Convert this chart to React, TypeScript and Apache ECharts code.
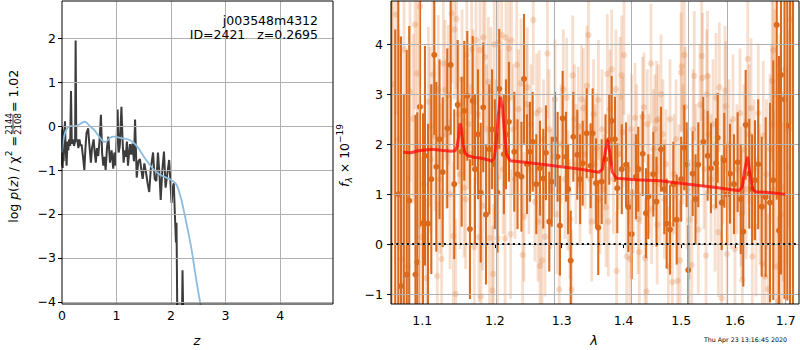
import React, { useEffect, useRef } from "react";
import * as echarts from "echarts";

// ---------------- Left panel: redshift probability ----------------
const pzZ = [0.0, 0.005, 0.012, 0.02, 0.03, 0.04, 0.055, 0.065, 0.085, 0.1, 0.115, 0.13, 0.15, 0.165, 0.18, 0.2, 0.22, 0.24, 0.25, 0.262, 0.28, 0.3, 0.32, 0.34, 0.36, 0.385, 0.41, 0.43, 0.45, 0.48, 0.5, 0.53, 0.55, 0.58, 0.6, 0.62, 0.64, 0.665, 0.69, 0.714, 0.735, 0.757, 0.78, 0.8, 0.825, 0.85, 0.88, 0.91, 0.94, 0.96, 0.985, 1.02, 1.04, 1.06, 1.09, 1.11, 1.13, 1.15, 1.17, 1.19, 1.21, 1.245, 1.27, 1.29, 1.32, 1.34, 1.37, 1.4, 1.43, 1.455, 1.48, 1.51, 1.54, 1.57, 1.6, 1.63, 1.67, 1.7, 1.73, 1.76, 1.79, 1.81, 1.84, 1.87, 1.9, 1.93, 1.965, 1.99, 2.01, 2.03, 2.05, 2.07, 2.09, 2.1, 2.115, 2.2, 2.21, 2.225];
const pzLog = [-0.9, -0.08, -0.95, -0.55, -0.8, -0.2, 0.11, -0.5, -0.9, -0.35, -0.55, -0.3, -0.45, 0.8, -0.4, -0.3, -0.45, -0.35, 1.95, -0.35, -0.3, -0.5, -0.3, -0.45, -0.42, -0.7, -1.0, -0.5, -0.15, -0.05, -0.4, -0.83, -0.5, -0.3, -0.6, -0.83, -0.5, -0.68, -0.3, 0.26, -0.6, -0.9, -0.7, -1.0, -0.5, -0.24, -0.83, -0.55, -0.97, -0.6, -0.9, 0.38, -0.6, -0.45, 0.44, -0.3, -0.83, -0.55, -0.7, -0.35, -0.9, -0.41, -0.65, -0.4, -0.8, 0.15, -1.17, -0.8, -0.75, -1.0, -1.2, -0.85, -1.05, -1.3, -1.5, -0.95, -0.6, -1.2, -1.25, -0.6, -1.15, -1.68, -1.0, -0.58, -1.4, -1.1, -0.77, -1.3, -1.75, -1.4, -1.3, -2.0, -2.65, -2.2, -4.4, -4.4, -3.28, -4.4];
const priorZ = [0.0, 0.055, 0.15, 0.24, 0.33, 0.42, 0.51, 0.6, 0.73, 0.79, 0.88, 0.94, 1.09, 1.25, 1.37, 1.52, 1.67, 1.79, 2.01, 2.1, 2.19, 2.28, 2.375, 2.47, 2.56];
const priorLog = [-0.6, -0.15, 0.0, 0.0, 0.05, 0.1, 0.0, -0.1, -0.32, -0.36, -0.27, -0.24, -0.27, -0.32, -0.45, -0.73, -0.97, -1.1, -1.23, -1.33, -1.68, -2.2, -2.8, -3.56, -4.2];
const zTicks = [0, 1, 2, 3, 4];
const pzTicks = [-4, -3, -2, -1, 0, 1, 2];

// ---------------- Right panel: 1D spectrum ----------------
const darkWave = [1.06, 1.065, 1.0689, 1.0723, 1.076, 1.0797, 1.083, 1.0911, 1.0935, 1.097, 1.101, 1.1036, 1.1076, 1.112, 1.116, 1.1187, 1.123, 1.1273, 1.1335, 1.1381, 1.143, 1.1477, 1.1532, 1.1568, 1.161, 1.1647, 1.1685, 1.1717, 1.176, 1.1798, 1.1834, 1.1873, 1.192, 1.196, 1.2, 1.2037, 1.2063, 1.213, 1.216, 1.2204, 1.2282, 1.233, 1.2388, 1.2426, 1.247, 1.2515, 1.2556, 1.261, 1.2666, 1.2716, 1.2757, 1.2808, 1.2845, 1.2896, 1.2937, 1.2973, 1.3015, 1.3067, 1.31, 1.3141, 1.3182, 1.3245, 1.329, 1.3331, 1.3395, 1.3459, 1.3491, 1.3545, 1.3582, 1.3638, 1.37, 1.3762, 1.3802, 1.3856, 1.3895, 1.397, 1.4041, 1.408, 1.4137, 1.421, 1.4249, 1.4325, 1.4381, 1.4421, 1.4508, 1.4563, 1.4642, 1.47, 1.4742, 1.4801, 1.486, 1.492, 1.5, 1.5056, 1.5099, 1.5128, 1.5208, 1.526, 1.5311, 1.5403, 1.5484, 1.5545, 1.5639, 1.5671, 1.5746, 1.5795, 1.585, 1.5903, 1.598, 1.605, 1.611, 1.6159, 1.6205, 1.6275, 1.633, 1.6387, 1.645, 1.6519, 1.6598, 1.6684, 1.675, 1.6819, 1.6865, 1.6906, 1.6977, 1.7034, 1.709, 1.7151];
const darkFlux = [5.6, -1.7, 1.0, -0.84, -1.5, -0.61, 0.87, -0.61, -0.36, 2.75, 0.42, 1.77, 0.41, 1.3, 3.79, 1.55, 2.1, 1.44, 2.32, 3.59, 1.2, 2.79, 1.85, 2.67, 2.97, 0.3, 2.87, 1.5, 2.2, 1.03, 2.74, 0.59, 1.9, 2.3, 1.6, 1.03, 3.11, 1.8, 2.2, 2.45, 1.85, 1.4, 1.35, 3.31, 1.6, 1.85, 2.05, 1.2, 1.52, 1.31, 1.83, 0.45, 1.25, 2.1, 1.75, 0.37, 2.52, 1.75, 1.1, -0.33, 2.15, 1.79, 1.3, 1.62, 2.22, 1.57, 2.22, 1.22, 0.33, 1.25, 1.7, 2.09, 2.47, 2.1, 1.12, 1.5, 1.59, 0.74, 0.2, 1.35, 1.5, 1.81, 0.62, 0.95, 1.4, 0.85, 1.9, 1.1, 0.41, 0.29, 1.2, 0.49, 1.3, 1.93, 1.59, -0.52, 1.41, 0.9, 1.59, 2.05, 1.77, 1.52, 1.62, 2.13, 0.83, 1.68, 1.0, 1.41, 1.2, 1.64, 0.9, 0.25, 2.39, 1.41, 1.1, 1.28, 1.6, 0.75, 0.94, 0.83, 1.28, 4.39, 0.27, 3.39, 2.9, 2.37, 5.5, -1.6];
const darkErr = [7, 6, 5, 5, 4.5, 4.5, 3.5, 3.2, 3.0, 2.4, 2.2, 2.2, 2.0, 1.9, 1.6, 1.7, 1.6, 1.5, 1.6, 1.4, 1.5, 1.3, 1.5, 1.4, 1.3, 1.4, 1.3, 1.5, 1.3, 1.4, 1.3, 1.4, 1.3, 1.2, 1.3, 1.2, 1.2, 1.2, 1.1, 1.2, 1.2, 1.1, 1.1, 1.3, 1.0, 1.0, 1.0, 1.0, 0.95, 1.0, 0.95, 1.0, 0.9, 0.95, 0.9, 1.0, 0.95, 0.9, 0.9, 1.0, 0.9, 0.9, 0.9, 0.85, 0.9, 0.85, 0.9, 0.9, 0.95, 0.85, 0.9, 0.9, 0.9, 0.85, 0.9, 0.9, 0.85, 0.9, 0.9, 0.85, 0.85, 0.85, 0.9, 0.85, 0.85, 0.9, 0.85, 0.9, 0.9, 0.9, 0.85, 0.9, 0.85, 0.85, 0.85, 0.9, 0.85, 0.9, 0.85, 0.9, 0.9, 0.9, 0.9, 0.9, 0.95, 0.95, 1.0, 1.0, 1.0, 1.0, 1.1, 1.1, 1.1, 1.1, 1.1, 1.2, 1.3, 1.4, 1.6, 2.0, 2.4, 3.5, 3.5, 4.0, 4.0, 3.5, 7, 7];

const lightWave = [1.0621, 1.0659, 1.0698, 1.0737, 1.0763, 1.0811, 1.084, 1.0883, 1.0905, 1.0935, 1.0948, 1.097, 1.0983, 1.1023, 1.1056, 1.1082, 1.1102, 1.1115, 1.1142, 1.1169, 1.12, 1.1213, 1.1236, 1.1259, 1.1281, 1.1304, 1.1324, 1.1349, 1.1372, 1.1395, 1.1417, 1.1434, 1.145, 1.1461, 1.1489, 1.1509, 1.1537, 1.1565, 1.1586, 1.1603, 1.1628, 1.1654, 1.1671, 1.1689, 1.1708, 1.1732, 1.1753, 1.1774, 1.1788, 1.1802, 1.1826, 1.1835, 1.1859, 1.188, 1.1906, 1.1923, 1.1944, 1.1963, 1.1977, 1.1991, 1.2016, 1.204, 1.2049, 1.2074, 1.2099, 1.2118, 1.2147, 1.2161, 1.219, 1.2205, 1.2229, 1.2241, 1.2263, 1.2293, 1.2318, 1.2344, 1.2381, 1.2406, 1.2426, 1.2466, 1.2475, 1.25, 1.253, 1.2565, 1.259, 1.2616, 1.2636, 1.2655, 1.2666, 1.2697, 1.272, 1.2743, 1.2779, 1.2804, 1.2834, 1.287, 1.2896, 1.2927, 1.2962, 1.2989, 1.3025, 1.3051, 1.3078, 1.3098, 1.3129, 1.3156, 1.3172, 1.32, 1.3224, 1.3261, 1.3288, 1.3313, 1.3342, 1.337, 1.3398, 1.3424, 1.3448, 1.3476, 1.3505, 1.353, 1.3558, 1.3584, 1.361, 1.3643, 1.3676, 1.3709, 1.373, 1.3746, 1.3774, 1.3802, 1.3831, 1.3873, 1.3884, 1.3915, 1.394, 1.3969, 1.3991, 1.4008, 1.4054, 1.4085, 1.4108, 1.4134, 1.4164, 1.4193, 1.4222, 1.4244, 1.4266, 1.4295, 1.4324, 1.4346, 1.4364, 1.4393, 1.4403, 1.4433, 1.4467, 1.4479, 1.451, 1.4536, 1.4565, 1.4575, 1.4593, 1.4624, 1.4642, 1.4677, 1.4704, 1.473, 1.4771, 1.4801, 1.4842, 1.4872, 1.4908, 1.4938, 1.4961, 1.4979, 1.4997, 1.501, 1.5034, 1.5057, 1.507, 1.5106, 1.5148, 1.5191, 1.5215, 1.5238, 1.5269, 1.5311, 1.5342, 1.5373, 1.5388, 1.5416, 1.5453, 1.5466, 1.5481, 1.5509, 1.5546, 1.5583, 1.5621, 1.564, 1.5683, 1.5702, 1.5746, 1.5771, 1.5809, 1.5822, 1.5847, 1.5884, 1.5922, 1.5961, 1.5999, 1.6037, 1.6095, 1.6114, 1.6128, 1.614, 1.6173, 1.6212, 1.6245, 1.627, 1.6309, 1.6334, 1.6367, 1.6407, 1.6452, 1.6485, 1.6531, 1.6551, 1.6584, 1.6614, 1.665, 1.6684, 1.6718, 1.673, 1.675, 1.676, 1.6784, 1.6814, 1.6851, 1.6885, 1.6915, 1.6952, 1.6987, 1.7022, 1.7068, 1.7108];
const lightFlux = [3.2, 4.6, 2.1, -0.3, 3.9, -0.45, 3.05, 2.51, 4.4, 3.42, 0.35, 4.76, 0.14, 1.2, -0.68, 2.85, 2.35, 1.7, 3.4, 2.16, -0.64, 3.09, 1.3, -0.3, 3.62, 3.09, 2.2, 2.99, 1.0, 4.62, 0.16, 4.3, -1.0, 4.51, 2.6, 1.4, 3.3, 1.13, 0.9, 3.79, 2.4, 1.8, 3.9, 2.9, -0.06, 4.09, 2.6, 0.14, 3.89, -1.05, 0.77, 4.14, 3.75, 2.3, 3.25, 0.12, 3.05, -0.93, -0.6, 4.0, 2.0, 0.12, 4.03, 2.6, 4.19, 1.5, 0.11, 4.14, 2.9, 3.92, 0.2, 4.08, 2.3, 1.3, 3.59, 2.7, 3.22, -0.22, 0.55, 2.8, 3.14, 1.5, 2.4, 4.49, 0.85, 2.62, 0.45, 2.68, -0.44, -0.33, 2.1, 0.15, 3.82, 2.3, 1.1, 1.75, 2.9, 0.6, -0.91, 2.0, 3.1, 1.3, 2.93, 1.07, 0.5, -0.91, 3.38, 2.5, 1.6, 2.35, 1.22, 2.9, 2.72, 1.8, 3.17, 4.19, 1.3, 0.45, 2.6, 1.6, 1.92, 2.89, 0.9, 2.3, 1.1, 0.74, 3.41, 0.45, 2.7, 3.5, 1.3, 3.1, -0.54, 1.8, 2.95, 3.38, 2.24, 3.79, -0.25, 1.5, -0.3, 2.3, 1.02, 2.53, 2.0, 0.5, -0.16, 1.5, 2.55, 2.74, -0.28, -0.95, 2.4, 1.4, 3.62, 0.7, 1.9, 2.3, 2.47, 0.39, 2.5, 1.2, 3.0, 2.2, 0.9, 1.6, -0.45, 2.5, -0.76, 1.4, 2.1, -0.74, 1.2, -0.33, 3.44, 3.56, 2.0, 3.79, 2.75, 1.1, 0.49, -0.42, 2.3, 3.37, 1.6, 0.29, 2.79, 3.77, 3.33, 1.5, -0.23, 3.0, 3.37, 2.2, 1.3, 2.4, 0.75, 2.93, 0.24, 3.14, -1.08, 1.7, 3.07, 2.76, -0.2, 2.0, 1.2, 2.5, -0.1, 1.5, 2.62, 0.95, 0.6, -0.72, 1.9, 1.1, 3.71, 2.2, 2.72, -0.25, 1.5, 0.35, 2.62, 1.0, -0.4, 2.17, -0.65, 1.4, -0.9, 1.9, 2.41, 3.27, 3.89, 1.09, 3.0, -0.45, -1.14, 2.4, 0.6, 1.15, 3.5, 1.55, 2.3, 4.5];
const lightErr = [2.2, 2.0, 2.2, 2.0, 1.8, 1.8, 1.8, 1.7, 1.7, 1.6, 1.7, 1.6, 1.6, 1.6, 1.6, 1.5, 1.6, 1.5, 1.5, 1.5, 1.5, 1.5, 1.5, 1.4, 1.5, 1.4, 1.5, 1.4, 1.5, 1.4, 1.5, 1.4, 1.5, 1.4, 1.4, 1.5, 1.4, 1.4, 1.4, 1.4, 1.3, 1.4, 1.3, 1.4, 1.4, 1.3, 1.4, 1.3, 1.4, 1.4, 1.3, 1.3, 1.4, 1.3, 1.3, 1.4, 1.3, 1.3, 1.4, 1.3, 1.3, 1.3, 1.3, 1.3, 1.3, 1.3, 1.3, 1.3, 1.2, 1.3, 1.3, 1.2, 1.3, 1.2, 1.3, 1.2, 1.3, 1.2, 1.3, 1.2, 1.2, 1.3, 1.2, 1.3, 1.2, 1.2, 1.2, 1.2, 1.2, 1.3, 1.2, 1.2, 1.3, 1.2, 1.2, 1.2, 1.2, 1.2, 1.2, 1.2, 1.2, 1.2, 1.2, 1.2, 1.2, 1.2, 1.2, 1.1, 1.2, 1.2, 1.2, 1.1, 1.2, 1.1, 1.2, 1.2, 1.1, 1.2, 1.1, 1.2, 1.1, 1.2, 1.1, 1.2, 1.1, 1.2, 1.2, 1.1, 1.2, 1.2, 1.1, 1.2, 1.2, 1.1, 1.2, 1.2, 1.1, 1.2, 1.2, 1.1, 1.2, 1.1, 1.2, 1.1, 1.2, 1.1, 1.2, 1.1, 1.2, 1.1, 1.2, 1.2, 1.1, 1.2, 1.2, 1.1, 1.2, 1.1, 1.2, 1.2, 1.1, 1.2, 1.2, 1.1, 1.2, 1.1, 1.2, 1.2, 1.2, 1.2, 1.2, 1.2, 1.2, 1.2, 1.2, 1.3, 1.2, 1.3, 1.2, 1.2, 1.2, 1.3, 1.2, 1.3, 1.2, 1.3, 1.2, 1.3, 1.3, 1.2, 1.3, 1.3, 1.3, 1.2, 1.3, 1.3, 1.3, 1.3, 1.3, 1.3, 1.3, 1.3, 1.3, 1.3, 1.3, 1.3, 1.3, 1.3, 1.3, 1.3, 1.3, 1.4, 1.3, 1.4, 1.3, 1.4, 1.4, 1.4, 1.4, 1.4, 1.4, 1.4, 1.4, 1.4, 1.5, 1.5, 1.5, 1.5, 1.5, 1.5, 1.6, 1.6, 1.6, 1.6, 1.7, 1.7, 1.7, 1.8, 1.8, 1.9, 1.9, 2.0, 2.0, 2.1, 2.2, 2.3, 2.5];

const modelWave = [1.0753, 1.085, 1.095, 1.1125, 1.125, 1.139, 1.144, 1.147, 1.149, 1.151, 1.153, 1.155, 1.158, 1.162, 1.17, 1.181, 1.19, 1.196, 1.199, 1.202, 1.205, 1.208, 1.211, 1.214, 1.217, 1.222, 1.244, 1.287, 1.33, 1.359, 1.365, 1.369, 1.373, 1.377, 1.381, 1.388, 1.42, 1.462, 1.513, 1.56, 1.608, 1.614, 1.618, 1.624, 1.629, 1.634, 1.64, 1.67, 1.699];
const modelFlux = [1.84, 1.83, 1.87, 1.9, 1.88, 1.86, 1.87, 1.95, 2.15, 2.42, 2.3, 2.0, 1.82, 1.77, 1.74, 1.72, 1.69, 1.66, 1.72, 2.05, 2.6, 2.95, 2.75, 2.2, 1.8, 1.67, 1.64, 1.57, 1.5, 1.44, 1.5, 1.8, 2.09, 1.85, 1.45, 1.32, 1.29, 1.27, 1.2, 1.14, 1.07, 1.15, 1.45, 1.75, 1.4, 1.1, 1.05, 1.03, 1.0];

const waveTicks = [1.1, 1.2, 1.3, 1.4, 1.5, 1.6, 1.7];
const fluxTicks = [-1, 0, 1, 2, 3, 4];

const F_MIN = -1.2;
const F_MAX = 4.87;
const W_MIN = 1.0596;
const W_MAX = 1.7274;

const FONT = "DejaVu Sans";
const ORANGE = "#dc6a1c";
const GRIDC = "#b0b0b0";

const minus = (v: number) => (v < 0 ? "\u2212" + Math.abs(v) : String(v));

function errRender(color: string, opacity: number, lw: number, r: number) {
  return (params: any, api: any) => {
    const x = api.value(0);
    const y = api.value(1);
    const e = api.value(2);
    const lo = Math.max(y - e, F_MIN);
    const hi = Math.min(y + e, F_MAX);
    const children: any[] = [];
    if (hi > lo) {
      const p0 = api.coord([x, lo]);
      const p1 = api.coord([x, hi]);
      children.push({
        type: "line",
        shape: { x1: p0[0], y1: p0[1], x2: p1[0], y2: p1[1] },
        style: { stroke: color, lineWidth: lw, opacity },
      });
    }
    if (y > F_MIN && y < F_MAX) {
      const c = api.coord([x, y]);
      children.push({
        type: "circle",
        shape: { cx: c[0], cy: c[1], r },
        style: { fill: color, opacity },
      });
    }
    return { type: "group", children };
  };
}

export default function App() {
  const ref = useRef<HTMLDivElement>(null);

  useEffect(() => {
    document.body.style.margin = "0";
    if (!ref.current) return;
    const chart = echarts.init(ref.current, undefined, { renderer: "svg" });

    const lg = (w: number) => Math.log10(w);
    const tickFont = { fontFamily: FONT, fontSize: 12.5, color: "#000" };
    const tick = { show: true, length: 4, lineStyle: { color: "#000" } };
    const gridLine = {
      silent: true,
      symbol: "none",
      label: { show: false },
      lineStyle: { color: GRIDC, type: "solid", width: 1, opacity: 1 },
    };

    const option: any = {
      animation: false,
      backgroundColor: "#fff",
      grid: [
        { left: 62, top: 1, width: 271, height: 303, show: false },
        { left: 391, top: 1, width: 408, height: 303, show: false },
      ],
      xAxis: [
        {
          gridIndex: 0,
          type: "value",
          min: 0,
          max: 4.97,
          axisLine: { show: false },
          axisTick: { ...tick, customValues: zTicks },
          axisLabel: { ...tickFont, margin: 5, customValues: zTicks },
          splitLine: { show: false },
        },
        {
          gridIndex: 1,
          type: "value",
          min: lg(W_MIN),
          max: lg(W_MAX),
          axisLine: { show: false },
          axisTick: { ...tick, customValues: waveTicks.map(lg) },
          axisLabel: {
            ...tickFont,
            margin: 10,
            customValues: waveTicks.map(lg),
            formatter: (v: number) => Math.pow(10, v).toFixed(1),
          },
          splitLine: { show: false },
        },
      ],
      yAxis: [
        {
          gridIndex: 0,
          type: "value",
          min: -4.05,
          max: 2.85,
          axisLine: { show: false },
          axisTick: { ...tick, customValues: pzTicks },
          axisLabel: { ...tickFont, margin: 6, customValues: pzTicks, formatter: minus },
          splitLine: { show: false },
        },
        {
          gridIndex: 1,
          type: "value",
          min: F_MIN,
          max: F_MAX,
          axisLine: { show: false },
          axisTick: { ...tick, customValues: fluxTicks },
          axisLabel: { ...tickFont, margin: 8, customValues: fluxTicks, formatter: minus },
          splitLine: { show: false },
        },
      ],
      series: [
        {
          type: "line",
          xAxisIndex: 0,
          yAxisIndex: 0,
          data: [],
          z: 1,
          silent: true,
          markLine: {
            ...gridLine,
            data: [
              ...zTicks.filter((v) => v > 0).map((v) => ({ xAxis: v })),
              ...pzTicks.map((v) => ({ yAxis: v })),
            ],
          },
        },
        {
          type: "line",
          xAxisIndex: 1,
          yAxisIndex: 1,
          data: [],
          z: 1,
          silent: true,
          markLine: {
            ...gridLine,
            data: [
              ...waveTicks.map((v) => ({ xAxis: lg(v) })),
              ...fluxTicks.map((v) => ({ yAxis: v })),
            ],
          },
        },
        {
          type: "line",
          xAxisIndex: 0,
          yAxisIndex: 0,
          data: pzZ.map((z, i) => [z, pzLog[i]]),
          showSymbol: false,
          clip: true,
          lineStyle: { color: "#3c3c3c", width: 2 },
          z: 3,
        },
        {
          type: "line",
          xAxisIndex: 0,
          yAxisIndex: 0,
          data: priorZ.map((z, i) => [z, priorLog[i]]),
          showSymbol: false,
          smooth: 0.3,
          clip: true,
          lineStyle: { color: "#8cbce0", width: 1.8 },
          z: 4,
        },
        {
          type: "custom",
          xAxisIndex: 1,
          yAxisIndex: 1,
          clip: true,
          data: lightWave.map((w, i) => [lg(w), lightFlux[i], lightErr[i]]),
          renderItem: errRender(ORANGE, 0.22, 2.8, 3.2),
          z: 2,
        },
        {
          type: "custom",
          xAxisIndex: 1,
          yAxisIndex: 1,
          clip: true,
          data: darkWave.map((w, i) => [lg(w), darkFlux[i], darkErr[i]]),
          renderItem: errRender(ORANGE, 1, 2.1, 3),
          z: 3,
        },
        {
          type: "line",
          xAxisIndex: 1,
          yAxisIndex: 1,
          data: modelWave.map((w, i) => [lg(w), modelFlux[i]]),
          showSymbol: false,
          clip: true,
          lineStyle: { color: "#ff0000", width: 3, opacity: 0.7 },
          z: 5,
          markLine: {
            silent: true,
            symbol: "none",
            label: { show: false },
            lineStyle: { color: "#000", type: [2, 3.3], width: 2, opacity: 1 },
            data: [{ yAxis: 0 }],
          },
        },
      ],
      graphic: [
        { type: "rect", shape: { x: 62, y: 1, width: 271, height: 303 }, style: { fill: "none", stroke: "#000", lineWidth: 1 }, z: 100 },
        { type: "rect", shape: { x: 391, y: 1, width: 408, height: 303 }, style: { fill: "none", stroke: "#000", lineWidth: 1 }, z: 100 },
        {
          type: "text", x: 318, y: 20, z: 100,
          style: { text: "j003548m4312", font: `12.5px "${FONT}"`, fill: "#000", align: "right", verticalAlign: "middle" },
        },
        {
          type: "text", x: 318, y: 34, z: 100,
          style: { text: "ID=2421   z=0.2695", font: `12.5px "${FONT}"`, fill: "#000", align: "right", verticalAlign: "middle" },
        },
        {
          type: "text", x: 197, y: 340, z: 100,
          style: { text: "z", font: `italic 13px "${FONT}"`, fill: "#000", align: "center", verticalAlign: "middle" },
        },
        {
          type: "text", x: 594, y: 340, z: 100,
          style: { text: "λ", font: `italic 13px "${FONT}"`, fill: "#000", align: "center", verticalAlign: "middle" },
        },
        {
          type: "text", x: 787, y: 339.5, z: 100,
          style: { text: "Thu Apr 23 13:16:45 2020", font: `6.3px "${FONT}"`, fill: "#000", align: "right", verticalAlign: "middle" },
        },
        {
          type: "group",
          x: 13,
          y: 124,
          rotation: Math.PI / 2,
          z: 100,
          children: [
            {
              type: "text", x: -12, y: 0,
              style: {
                text: "{n|log }{i|p}{n|(}{i|z}{n|) / χ}{s|2}{n| =}",
                align: "right",
                verticalAlign: "middle",
                fill: "#000",
                rich: {
                  n: { fontFamily: FONT, fontSize: 12.5, lineHeight: 18, fill: "#000" },
                  i: { fontFamily: FONT, fontSize: 12.5, fontStyle: "italic", lineHeight: 18, fill: "#000" },
                  s: { fontFamily: FONT, fontSize: 9, lineHeight: 9, verticalAlign: "top", fill: "#000" },
                },
              },
            },
            {
              type: "text", x: 0, y: -4.5,
              style: { text: "2144", font: `8.5px "${FONT}"`, fill: "#000", align: "center", verticalAlign: "middle" },
            },
            { type: "line", shape: { x1: -9.5, y1: 0, x2: 9.5, y2: 0 }, style: { stroke: "#000", lineWidth: 0.8 } },
            {
              type: "text", x: 0, y: 5,
              style: { text: "2108", font: `8.5px "${FONT}"`, fill: "#000", align: "center", verticalAlign: "middle" },
            },
            {
              type: "text", x: 12, y: 0,
              style: { text: "= 1.02", font: `12.5px "${FONT}"`, fill: "#000", align: "left", verticalAlign: "middle" },
            },
          ],
        },
        {
          type: "group",
          x: 344,
          y: 187,
          rotation: Math.PI / 2,
          z: 100,
          children: [
            {
              type: "text", x: 0, y: 0,
              style: {
                text: "{i|f}{b|λ}{n| × 10}{s|−19}",
                align: "left",
                verticalAlign: "middle",
                fill: "#000",
                rich: {
                  n: { fontFamily: FONT, fontSize: 12.5, lineHeight: 18, fill: "#000" },
                  i: { fontFamily: FONT, fontSize: 12.5, fontStyle: "italic", lineHeight: 18, fill: "#000" },
                  b: { fontFamily: FONT, fontSize: 9, fontStyle: "italic", lineHeight: 9, verticalAlign: "bottom", fill: "#000" },
                  s: { fontFamily: FONT, fontSize: 9, lineHeight: 9, verticalAlign: "top", fill: "#000" },
                },
              },
            },
          ],
        },
      ],
    };

    chart.setOption(option);
    return () => chart.dispose();
  }, []);

  return <div ref={ref} style={{ width: 800, height: 350 }} />;
}
